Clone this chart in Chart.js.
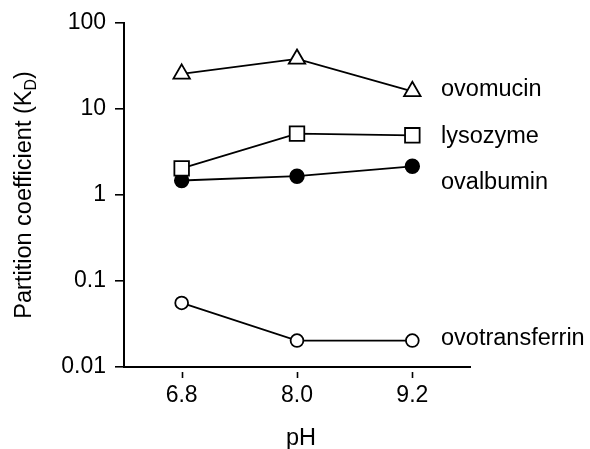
<!DOCTYPE html>
<html>
<head>
<meta charset="utf-8">
<script src="https://cdn.jsdelivr.net/npm/chart.js@4/dist/chart.umd.min.js"></script>
<style>
  html, body { margin: 0; padding: 0; background: #fff; }
  #wrap { width: 590px; height: 449px; }
</style>
</head>
<body>
<div id="wrap"><canvas id="c" width="590" height="449"></canvas></div>
<script>
const phValues = [6.8, 8.0, 9.2];
const xTickLabels = ['6.8', '8.0', '9.2'];
const yTickValues = [0.01, 0.1, 1, 10, 100];
const yTickLabels = ['0.01', '0.1', '1', '10', '100'];

const seriesNames = ['ovomucin', 'lysozyme', 'ovalbumin', 'ovotransferrin'];
const ovomucin = [25.5, 38, 16];
const lysozyme = [2.03, 5.15, 4.93];
const ovalbumin = [1.47, 1.65, 2.15];
const ovotransferrin = [0.0555, 0.0203, 0.0203];

const FONT = "'Liberation Sans', Arial, Helvetica, sans-serif";

function pts(vals) { return vals.map((v, i) => ({ x: phValues[i], y: v })); }

const labelBaselines = { ovomucin: 96, lysozyme: 143, ovalbumin: 189, ovotransferrin: 345 };

const decor = {
  id: 'decor',
  afterDraw(chart) {
    const ctx = chart.ctx;
    const xs = chart.scales.x;
    const area = chart.chartArea;
    ctx.save();
    ctx.strokeStyle = '#000';
    ctx.lineWidth = 1.6;
    phValues.forEach(v => {
      const px = Math.round(xs.getPixelForValue(v)) + 0.5;
      ctx.beginPath();
      ctx.moveTo(px, area.bottom + 5);
      ctx.lineTo(px, area.bottom + 11);
      ctx.stroke();
    });
    ctx.fillStyle = '#000';
    ctx.font = '23.5px ' + FONT;
    ctx.textAlign = 'left';
    ctx.textBaseline = 'alphabetic';
    seriesNames.forEach(n => ctx.fillText(n, 441, labelBaselines[n]));
    ctx.textAlign = 'center';
    ctx.fillText('pH', 301, 445);
    ctx.translate(31, (area.top + area.bottom) / 2);
    ctx.rotate(-Math.PI / 2);
    const main = 'Partition coefficient (K';
    ctx.font = '23.5px ' + FONT;
    const wMain = ctx.measureText(main).width;
    ctx.font = '16px ' + FONT;
    const wSub = ctx.measureText('D').width;
    ctx.font = '23.5px ' + FONT;
    const wEnd = ctx.measureText(')').width;
    const total = wMain + wSub + wEnd;
    let x0 = -total / 2;
    ctx.textAlign = 'left';
    ctx.fillText(main, x0, 0);
    ctx.font = '16px ' + FONT;
    ctx.fillText('D', x0 + wMain, 5);
    ctx.font = '23.5px ' + FONT;
    ctx.fillText(')', x0 + wMain + wSub, 0);
    ctx.restore();
  }
};

const common = { borderColor: '#000', borderWidth: 1.8, pointBorderWidth: 1.8, showLine: true, tension: 0, pointHoverRadius: 0 };

new Chart(document.getElementById('c'), {
  type: 'scatter',
  data: {
    datasets: [
      Object.assign({}, common, { label: 'ovomucin', data: pts(ovomucin), pointStyle: 'triangle', pointRadius: 9.5, backgroundColor: '#fff', pointBackgroundColor: '#fff' }),
      Object.assign({}, common, { label: 'lysozyme', data: pts(lysozyme), pointStyle: 'rect', pointRadius: 10.3, backgroundColor: '#fff', pointBackgroundColor: '#fff' }),
      Object.assign({}, common, { label: 'ovalbumin', data: pts(ovalbumin), pointStyle: 'circle', pointRadius: 6.8, backgroundColor: '#000', pointBackgroundColor: '#000' }),
      Object.assign({}, common, { label: 'ovotransferrin', data: pts(ovotransferrin), pointStyle: 'circle', pointRadius: 6.4, backgroundColor: '#fff', pointBackgroundColor: '#fff' })
    ]
  },
  options: {
    responsive: false,
    animation: false,
    events: [],
    layout: { padding: { top: 20, right: 120, left: 0, bottom: 0 } },
    plugins: { legend: { display: false }, tooltip: { enabled: false } },
    scales: {
      x: {
        type: 'linear',
        min: 6.2,
        max: 9.8,
        afterBuildTicks(s) { s.ticks = phValues.map(v => ({ value: v })); },
        afterFit(s) { s.height = 82; },
        ticks: {
          color: '#000',
          font: { family: FONT, size: 23 },
          padding: 3,
          maxRotation: 0,
          callback(v, i) { return xTickLabels[i]; }
        },
        grid: { display: true, drawOnChartArea: false, drawTicks: true, tickLength: 12, color: 'rgba(0,0,0,0)' },
        border: { display: true, color: '#000', width: 2 }
      },
      y: {
        type: 'logarithmic',
        min: 0.01,
        max: 100,
        afterBuildTicks(s) { s.ticks = yTickValues.map(v => ({ value: v })); },
        afterFit(s) { s.width = 124; },
        ticks: {
          color: '#000',
          font: { family: FONT, size: 23 },
          padding: 9,
          callback(v, i) { return yTickLabels[i]; }
        },
        grid: { display: true, drawOnChartArea: false, drawTicks: true, tickLength: 9, color: '#000', lineWidth: 1.6 },
        border: { display: true, color: '#000', width: 2 }
      }
    }
  },
  plugins: [decor]
});
</script>
</body>
</html>
